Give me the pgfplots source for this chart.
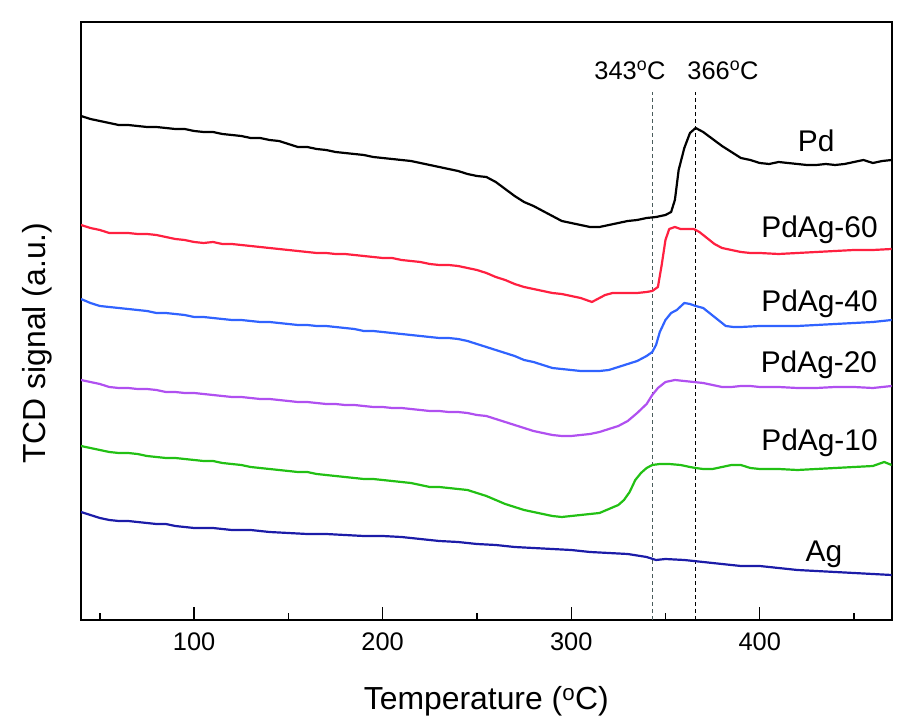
\documentclass[border=0pt]{standalone}
\usepackage{fontspec}
\setmainfont{Liberation Sans}
\usepackage{pgfplots}
\pgfplotsset{compat=1.18}
\definecolor{cPd}{HTML}{000000}
\definecolor{cSixty}{HTML}{FF2040}
\definecolor{cForty}{HTML}{3063FF}
\definecolor{cTwenty}{HTML}{B050F0}
\definecolor{cTen}{HTML}{22C014}
\definecolor{cAg}{HTML}{1C1CA8}
\definecolor{cDashA}{HTML}{4A5C5C}
\begin{document}
\begin{tikzpicture}
\path[use as bounding box] (0,0) rectangle (910bp,728bp);
\begin{axis}[
  at={(81bp,108bp)}, anchor=south west,
  scale only axis, width=810.7bp, height=598bp,
  xmin=40, xmax=470, ymin=0, ymax=598,
  axis line style={line width=1.6bp},
  xtick={100,200,300,400}, minor xtick={50,150,250,350,450},
  ytick=\empty,
  xtick pos=left,
  tick align=inside,
  major tick length=12.7bp, minor tick length=6.7bp,
  tick style={line width=1.3bp, black},
  /pgf/number format/assume math mode=true,
  tick label style={font=\fontsize{25.5}{30}\selectfont},
  xticklabel style={yshift=-9bp},
  xlabel={Temperature (\textsuperscript{o}C)},
  ylabel={TCD signal (a.u.)},
  label style={font=\fontsize{32}{38}\selectfont},
  xlabel style={at={(axis description cs:0.5,0)}, anchor=base, yshift=-89bp},
  ylabel style={at={(axis description cs:-0.0543,0.463)}, anchor=center},
  every axis plot/.append style={line width=2.2bp, line join=round},
  clip=true,
]
% dashed reference lines
\addplot[cDashA, line width=1.5bp, dash pattern=on 4bp off 3bp] coordinates {(343,0) (343,528)};
\addplot[black, line width=1.5bp, dash pattern=on 4bp off 3bp] coordinates {(366,0) (366,528)};
% Pd
\addplot[cPd] coordinates {
(40,504)(45,501)(50,499)(55,497)(60,495)(65,495)(70,494)(75,493)(80,493)(85,492)(90,491)(95,491)(100,489)(105,488)(110,488)(115,486)(120,485)(125,484)(130,482)(135,482)(140,480)(145,479)(150,476)(155,473)(160,473)(165,471)(170,470)(175,468)(180,467)(185,466)(190,465)(195,463)(200,462)(205,461)(210,460)(215,459)(220,457)(225,455)(230,453)(235,451)(240,449)(245,446)(250,444)(255,443)(260,438)(265,431)(270,424)(275,418)(280,414)(285,409)(290,404)(295,399)(300,397)(305,395)(310,393)(315,393)(320,395)(325,397)(330,399)(335,400)(340,402)(345,403)(350,405)(353,408)(355,420)(357,450)(360,472)(363,487)(366,492)(370,488)(375,481)(380,474)(385,468)(390,462)(395,460)(400,457)(405,456)(410,458)(415,457)(420,456)(425,455)(430,455)(435,456)(440,455)(445,456)(450,458)(455,460)(460,457)(465,459)(470,460)
};
% PdAg-60
\addplot[cSixty] coordinates {
(40,395)(45,392)(50,390)(55,387)(60,387)(65,387)(70,386)(75,386)(80,385)(85,383)(90,381)(95,380)(100,378)(105,377)(110,378)(115,376)(120,376)(125,375)(130,374)(135,373)(140,372)(145,371)(150,370)(155,369)(160,368)(165,367)(170,367)(175,366)(180,366)(185,365)(190,364)(195,363)(200,362)(205,362)(210,360)(215,359)(220,358)(225,356)(230,355)(235,355)(240,354)(245,352)(250,350)(255,347)(260,343)(265,340)(270,336)(275,333)(280,331)(285,329)(290,327)(295,326)(300,324)(305,322)(308,320)(311,318)(314,321)(318,325)(322,327)(326,327)(330,327)(335,327)(340,328)(343,329)(346,333)(348,355)(350,380)(352,391)(355,393)(358,391)(362,391)(365,391)(368,388)(372,382)(376,376)(380,372)(385,370)(390,368)(395,367)(400,367)(410,366)(420,367)(430,368)(440,369)(450,370)(460,370)(470,371)
};
% PdAg-40
\addplot[cForty] coordinates {
(40,321)(45,317)(50,314)(55,313)(60,312)(65,311)(70,310)(75,309)(80,307)(85,307)(90,306)(95,305)(100,303)(105,303)(110,302)(115,301)(120,300)(125,300)(130,299)(135,298)(140,298)(145,297)(150,296)(155,295)(160,295)(165,294)(170,294)(175,293)(180,292)(185,291)(190,289)(195,289)(200,288)(205,287)(210,286)(215,285)(220,284)(225,283)(230,282)(235,282)(240,281)(245,279)(250,276)(255,273)(260,270)(265,267)(270,264)(275,260)(280,258)(285,255)(290,252)(295,251)(300,250)(305,249)(310,249)(315,249)(320,250)(325,253)(330,256)(335,259)(340,264)(343,268)(345,275)(347,288)(350,300)(353,307)(356,310)(360,317)(363,316)(366,314)(370,312)(374,306)(378,300)(382,294)(386,293)(390,293)(400,294)(410,294)(420,294)(430,295)(440,296)(450,297)(460,298)(470,300)
};
% PdAg-20
\addplot[cTwenty] coordinates {
(40,240)(45,238)(50,236)(55,233)(60,232)(65,232)(70,231)(75,231)(80,230)(85,228)(90,228)(95,227)(100,227)(105,226)(110,225)(115,224)(120,223)(125,223)(130,222)(135,221)(140,221)(145,220)(150,219)(155,218)(160,218)(165,217)(170,216)(175,216)(180,215)(185,215)(190,214)(195,213)(200,213)(205,212)(210,212)(215,211)(220,210)(225,209)(230,209)(235,208)(240,208)(245,207)(250,205)(255,204)(260,201)(265,198)(270,195)(275,192)(280,189)(285,187)(290,185)(295,184)(300,184)(305,185)(310,186)(315,188)(320,191)(325,194)(330,199)(335,207)(340,216)(343,225)(346,232)(350,238)(355,240)(360,239)(365,238)(370,237)(375,235)(380,233)(385,233)(390,234)(395,234)(400,233)(410,233)(420,232)(430,232)(440,233)(450,233)(460,232)(470,234)
};
% PdAg-10
\addplot[cTen] coordinates {
(40,174)(45,172)(50,170)(55,168)(60,167)(65,167)(70,166)(75,164)(80,163)(85,162)(90,162)(95,161)(100,160)(105,159)(110,159)(115,157)(120,156)(125,155)(130,153)(135,152)(140,151)(145,150)(150,149)(155,148)(160,148)(165,146)(170,145)(175,144)(180,143)(185,142)(190,141)(195,141)(200,140)(205,139)(210,138)(215,137)(220,135)(225,133)(230,133)(235,132)(240,131)(245,130)(250,127)(255,124)(260,120)(265,116)(270,113)(275,110)(280,108)(285,106)(290,104)(295,103)(300,104)(305,105)(310,106)(315,107)(320,111)(325,115)(328,120)(331,128)(334,140)(337,147)(340,152)(343,155)(347,156)(352,156)(358,155)(363,153)(366,152)(370,151)(375,151)(380,153)(385,155)(390,155)(395,152)(400,151)(410,151)(420,150)(430,151)(440,152)(450,153)(460,154)(466,158)(470,155)
};
% Ag
\addplot[cAg] coordinates {
(40,108)(45,105)(50,102)(55,100)(60,99)(65,99)(70,98)(75,97)(80,96)(85,96)(90,94)(95,93)(100,92)(110,92)(120,90)(130,90)(140,88)(150,87)(160,86)(170,86)(180,85)(190,84)(200,84)(210,83)(220,81)(230,79)(240,78)(250,76)(260,75)(270,73)(280,72)(290,71)(300,70)(310,68)(320,67)(330,66)(340,63)(345,60)(350,61)(360,60)(370,58)(380,56)(390,54)(400,54)(410,52)(420,50)(430,49)(440,48)(450,47)(460,46)(470,45)
};
% labels
\node[anchor=base, font=\fontsize{30}{36}\selectfont] at (axis cs:429.9,468) {Pd};
\node[anchor=base, font=\fontsize{30}{36}\selectfont] at (axis cs:431.7,382) {PdAg-60};
\node[anchor=base, font=\fontsize{30}{36}\selectfont] at (axis cs:431.7,308) {PdAg-40};
\node[anchor=base, font=\fontsize{30}{36}\selectfont] at (axis cs:431.4,247) {PdAg-20};
\node[anchor=base, font=\fontsize{30}{36}\selectfont] at (axis cs:431.7,169) {PdAg-10};
\node[anchor=base, font=\fontsize{30}{36}\selectfont] at (axis cs:434.1,58) {Ag};
\node[anchor=base, font=\fontsize{25.5}{30}\selectfont] at (axis cs:331.2,540) {343\textsuperscript{o}C};
\node[anchor=base, font=\fontsize{25.5}{30}\selectfont] at (axis cs:380.5,540) {366\textsuperscript{o}C};
\end{axis}
\end{tikzpicture}
\end{document}
